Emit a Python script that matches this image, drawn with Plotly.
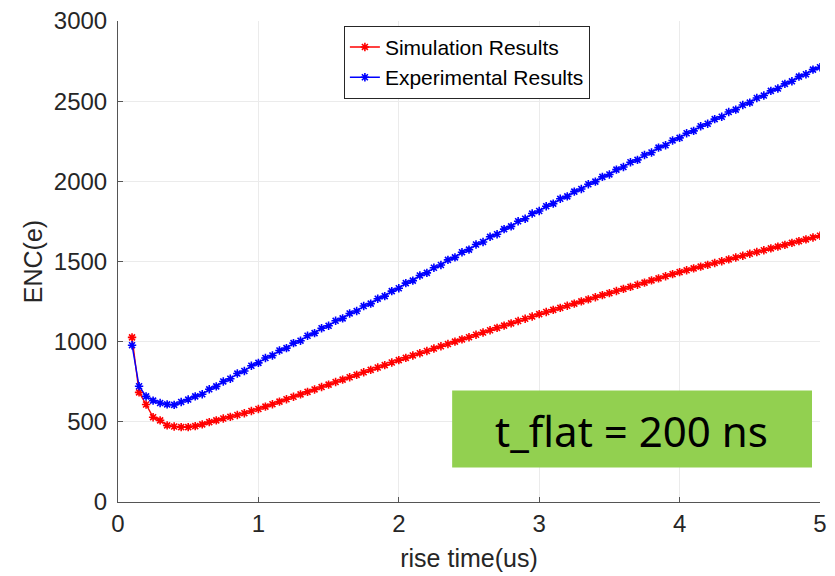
import plotly.graph_objects as go

rise_time = [0.10, 0.15, 0.20, 0.25, 0.30, 0.35, 0.40, 0.45, 0.50, 0.55,
             0.60, 0.65, 0.70, 0.75, 0.80, 0.85, 0.90, 0.95, 1.00,
             1.05, 1.10, 1.15, 1.20, 1.25, 1.30, 1.35, 1.40, 1.45, 1.50,
             1.55, 1.60, 1.65, 1.70, 1.75, 1.80, 1.85, 1.90, 1.95, 2.00,
             2.05, 2.10, 2.15, 2.20, 2.25, 2.30, 2.35, 2.40, 2.45, 2.50,
             2.55, 2.60, 2.65, 2.70, 2.75, 2.80, 2.85, 2.90, 2.95, 3.00,
             3.05, 3.10, 3.15, 3.20, 3.25, 3.30, 3.35, 3.40, 3.45, 3.50,
             3.55, 3.60, 3.65, 3.70, 3.75, 3.80, 3.85, 3.90, 3.95, 4.00,
             4.05, 4.10, 4.15, 4.20, 4.25, 4.30, 4.35, 4.40, 4.45, 4.50,
             4.55, 4.60, 4.65, 4.70, 4.75, 4.80, 4.85, 4.90, 4.95, 5.00]

simulation = [1027, 684, 608, 529, 509, 478, 471, 467, 467, 473,
              484, 498, 509, 521, 531, 543, 554, 568, 580,
              595, 610, 626, 641, 656, 671, 687, 702, 717, 732,
              748, 763, 778, 793, 809, 824, 839, 854, 870, 885,
              899, 914, 928, 942, 957, 971, 985, 1000, 1014, 1028,
              1043, 1057, 1071, 1086, 1100, 1114, 1129, 1143, 1157, 1172,
              1185, 1198, 1211, 1224, 1237, 1251, 1264, 1277, 1290, 1303,
              1316, 1329, 1342, 1355, 1368, 1382, 1395, 1408, 1421, 1434,
              1445, 1457, 1468, 1479, 1491, 1502, 1513, 1525, 1536, 1548,
              1559, 1570, 1582, 1593, 1604, 1616, 1627, 1638, 1650, 1661]

experimental = [978, 722, 659, 632, 617, 609, 606, 624, 639, 659,
                672, 703, 721, 752, 769, 801, 817, 850, 868,
                898, 914, 945, 960, 991, 1006, 1037, 1053, 1084, 1099,
                1130, 1145, 1176, 1191, 1222, 1237, 1268, 1284, 1315, 1333,
                1365, 1381, 1413, 1429, 1461, 1478, 1510, 1526, 1558, 1574,
                1606, 1622, 1654, 1670, 1702, 1719, 1751, 1767, 1799, 1815,
                1845, 1861, 1891, 1906, 1936, 1952, 1982, 1998, 2028, 2043,
                2073, 2089, 2119, 2134, 2164, 2180, 2210, 2225, 2255, 2271,
                2300, 2315, 2344, 2359, 2388, 2403, 2432, 2447, 2476, 2491,
                2520, 2535, 2564, 2579, 2608, 2624, 2653, 2668, 2697, 2712]

series_names = ["Simulation Results", "Experimental Results"]
x_ticks = [0, 1, 2, 3, 4, 5]
y_ticks = [0, 500, 1000, 1500, 2000, 2500, 3000]
x_title = "rise time(us)"
y_title = "ENC(e)"
annotation_text = "t_flat = 200 ns"

FONT = "Liberation Sans, Arial, sans-serif"
TITLE_FONT = dict(family=FONT, size=25, color="#262626")
TICK_FONT = dict(family=FONT, size=24, color="#262626")

fig = go.Figure()
for name, vals, col in [(series_names[0], simulation, "#ff0000"),
                        (series_names[1], experimental, "#0000ff")]:
    fig.add_trace(go.Scatter(
        x=rise_time, y=vals, name=name, mode="lines+markers",
        line=dict(color=col, width=1.4),
        marker=dict(symbol="asterisk-open", size=7, color=col,
                    line=dict(color=col, width=1.6)),
    ))

fig.add_shape(type="rect", xref="paper", yref="paper",
              x0=0.476, x1=0.9886, y0=0.0716, y1=0.2317,
              fillcolor="#92D050", line=dict(width=0), layer="above")
fig.add_annotation(xref="paper", yref="paper", x=0.732, y=0.148,
                   text=annotation_text, showarrow=False,
                   font=dict(family="Noto Sans, Lato, sans-serif", size=42, color="#000000"),
                   xanchor="center", yanchor="middle")

# The page body has an 8px margin, so the figure is sized to fit the window.
fig.update_layout(
    width=827, height=568,
    margin=dict(l=110, r=15, t=13, b=74),
    paper_bgcolor="#ffffff", plot_bgcolor="#ffffff",
    font=dict(family=FONT, size=20, color="#262626"),
    showlegend=True,
    legend=dict(x=0.497, y=0.99, xanchor="center", yanchor="top",
                bgcolor="#ffffff", bordercolor="#262626", borderwidth=1,
                font=dict(family=FONT, size=21, color="#000000"),
                tracegroupgap=0),
)
fig.update_xaxes(range=[0, 5], tickvals=x_ticks, ticktext=[str(v) for v in x_ticks],
                 showgrid=True, gridcolor="#ebebeb", gridwidth=1,
                 showline=True, linecolor="#555555", linewidth=1,
                 ticks="inside", ticklen=5, tickcolor="#555555",
                 zeroline=False, tickfont=TICK_FONT, automargin=False,
                 ticklabeloverflow="allow",
                 title_text=x_title, title_font=TITLE_FONT, title_standoff=13)
fig.update_yaxes(range=[0, 3000], tickvals=y_ticks, ticktext=[str(v) for v in y_ticks],
                 showgrid=True, gridcolor="#ebebeb", gridwidth=1,
                 showline=True, linecolor="#555555", linewidth=1,
                 ticks="inside", ticklen=5, tickcolor="#555555",
                 zeroline=False, tickfont=TICK_FONT, automargin=False,
                 ticklabelstandoff=5, ticklabeloverflow="allow",
                 title_text=y_title, title_font=TITLE_FONT, title_standoff=4)

fig.write_html("out.html")
